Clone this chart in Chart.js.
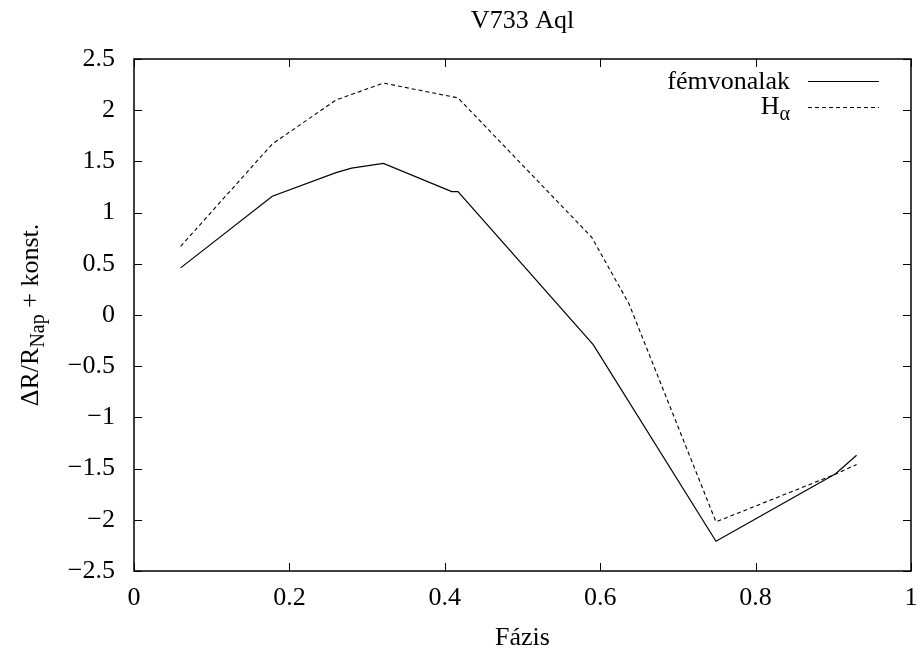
<!DOCTYPE html>
<html>
<head>
<meta charset="utf-8">
<script src="https://cdn.jsdelivr.net/npm/chart.js@4.4.0/dist/chart.umd.min.js"></script>
<style>
  html, body { margin: 0; padding: 0; background: #fff; }
  #wrap { width: 921px; height: 655px; }
</style>
</head>
<body>
<div id="wrap"><canvas id="chart" width="921" height="655"></canvas></div>
<script>
// values
const metalPhase = [0.060, 0.178, 0.260, 0.280, 0.321, 0.409, 0.417, 0.591, 0.749, 0.903, 0.930];
const metalValue = [0.46, 1.16, 1.39, 1.435, 1.48, 1.205, 1.205, -0.29, -2.21, -1.55, -1.37];
const halphaPhase = [0.060, 0.178, 0.260, 0.321, 0.417, 0.589, 0.637, 0.749, 0.901, 0.930];
const halphaValue = [0.67, 1.67, 2.10, 2.265, 2.12, 0.76, 0.11, -2.02, -1.56, -1.46];

const xTicks = [0, 0.2, 0.4, 0.6, 0.8, 1];
const yTicks = [-2.5, -2, -1.5, -1, -0.5, 0, 0.5, 1, 1.5, 2, 2.5];

const FONT = '"Liberation Serif", "Times New Roman", serif';
const BIG = 26, SMALL = 20;

const toPoints = (xs, ys) => xs.map((x, i) => ({ x: x, y: ys[i] }));
const fmt = v => {
  const s = String(Math.round(v * 10) / 10);
  return v < 0 ? '\u2212' + s.slice(1) : s;
};

// gnuplot style: ticks pointing inwards, mirrored on all four sides
const innerTicks = {
  id: 'innerTicks',
  afterDraw(chart) {
    const { ctx, chartArea: a, scales } = chart;
    const len = 8;
    ctx.save();
    ctx.strokeStyle = '#000';
    ctx.lineWidth = 1;
    ctx.beginPath();
    xTicks.forEach(v => {
      const px = Math.round(scales.x.getPixelForValue(v)) + 0.5;
      ctx.moveTo(px, a.bottom); ctx.lineTo(px, a.bottom - len);
      ctx.moveTo(px, a.top); ctx.lineTo(px, a.top + len);
    });
    yTicks.forEach(v => {
      const py = Math.round(scales.y.getPixelForValue(v)) + 0.5;
      ctx.moveTo(a.left, py); ctx.lineTo(a.left + len, py);
      ctx.moveTo(a.right, py); ctx.lineTo(a.right - len, py);
    });
    ctx.stroke();
    ctx.lineWidth = 1.5;
    ctx.strokeRect(a.left, a.top, a.right - a.left, a.bottom - a.top);
    ctx.restore();
  }
};

// draws text pieces, some of them as subscripts
const drawRich = (ctx, parts, x, y) => {
  parts.forEach(p => {
    ctx.font = (p.sub ? SMALL : BIG) + 'px ' + FONT;
    ctx.fillText(p.t, x, y + (p.sub ? 6 : 0));
    x += ctx.measureText(p.t).width;
  });
};
const richWidth = (ctx, parts) => parts.reduce((w, p) => {
  ctx.font = (p.sub ? SMALL : BIG) + 'px ' + FONT;
  return w + ctx.measureText(p.t).width;
}, 0);

// titles and legend
const texts = {
  id: 'texts',
  afterDraw(chart) {
    const { ctx, chartArea: a } = chart;
    const cx = (a.left + a.right) / 2;
    ctx.save();
    ctx.fillStyle = '#000';
    ctx.font = BIG + 'px ' + FONT;
    ctx.textAlign = 'center';
    ctx.textBaseline = 'alphabetic';
    ctx.fillText('V733 Aql', cx, 28);
    ctx.fillText('Fázis', cx, 645);

    // y axis title, rotated
    ctx.save();
    ctx.translate(38, (a.top + a.bottom) / 2);
    ctx.rotate(-Math.PI / 2);
    ctx.textAlign = 'left';
    const yTitle = [{ t: '\u0394R/R' }, { t: 'Nap', sub: true }, { t: ' + konst.' }];
    drawRich(ctx, yTitle, -richWidth(ctx, yTitle) / 2, 0);
    ctx.restore();

    // legend
    ctx.textAlign = 'left';
    const right = 790;
    const leg1 = [{ t: 'fémvonalak' }];
    const leg2 = [{ t: 'H' }, { t: '\u03b1', sub: true }];
    drawRich(ctx, leg1, right - richWidth(ctx, leg1), 89);
    drawRich(ctx, leg2, right - richWidth(ctx, leg2), 114);

    const ds = chart.data.datasets;
    [[81, ds[0]], [107, ds[1]]].forEach(([y, d]) => {
      ctx.beginPath();
      ctx.strokeStyle = d.borderColor;
      ctx.lineWidth = d.borderWidth;
      ctx.setLineDash(d.borderDash || []);
      ctx.moveTo(808, y + 0.5);
      ctx.lineTo(879, y + 0.5);
      ctx.stroke();
    });
    ctx.restore();
  }
};

new Chart(document.getElementById('chart'), {
  type: 'scatter',
  data: {
    datasets: [
      {
        label: 'fémvonalak',
        data: toPoints(metalPhase, metalValue),
        showLine: true,
        borderColor: '#000',
        borderWidth: 1.2,
        pointRadius: 0,
        tension: 0
      },
      {
        label: 'H\u03b1',
        data: toPoints(halphaPhase, halphaValue),
        showLine: true,
        borderColor: '#000',
        borderWidth: 1.1,
        borderDash: [4, 3],
        pointRadius: 0,
        tension: 0
      }
    ]
  },
  options: {
    responsive: false,
    animation: false,
    layout: { padding: { left: 0, top: 59, right: 10, bottom: 0 } },
    plugins: {
      legend: { display: false },
      tooltip: { enabled: false },
      title: { display: false }
    },
    scales: {
      x: {
        type: 'linear',
        min: 0,
        max: 1,
        afterBuildTicks: s => { s.ticks = xTicks.map(v => ({ value: v })); },
        afterFit: s => { s.height = 84; s.paddingLeft = 0; s.paddingRight = 0; },
        grid: { display: false, drawTicks: false },
        border: { display: false },
        ticks: {
          color: '#000',
          font: { family: FONT, size: BIG },
          padding: 12,
          maxRotation: 0,
          callback: v => fmt(v)
        }
      },
      y: {
        type: 'linear',
        min: -2.5,
        max: 2.5,
        afterBuildTicks: s => { s.ticks = yTicks.map(v => ({ value: v })); },
        afterFit: s => { s.width = 134; s.paddingTop = 0; s.paddingBottom = 0; },
        grid: { display: false, drawTicks: false },
        border: { display: false },
        ticks: {
          color: '#000',
          font: { family: FONT, size: BIG },
          padding: 19,
          callback: v => fmt(v)
        }
      }
    }
  },
  plugins: [innerTicks, texts]
});
</script>
</body>
</html>
